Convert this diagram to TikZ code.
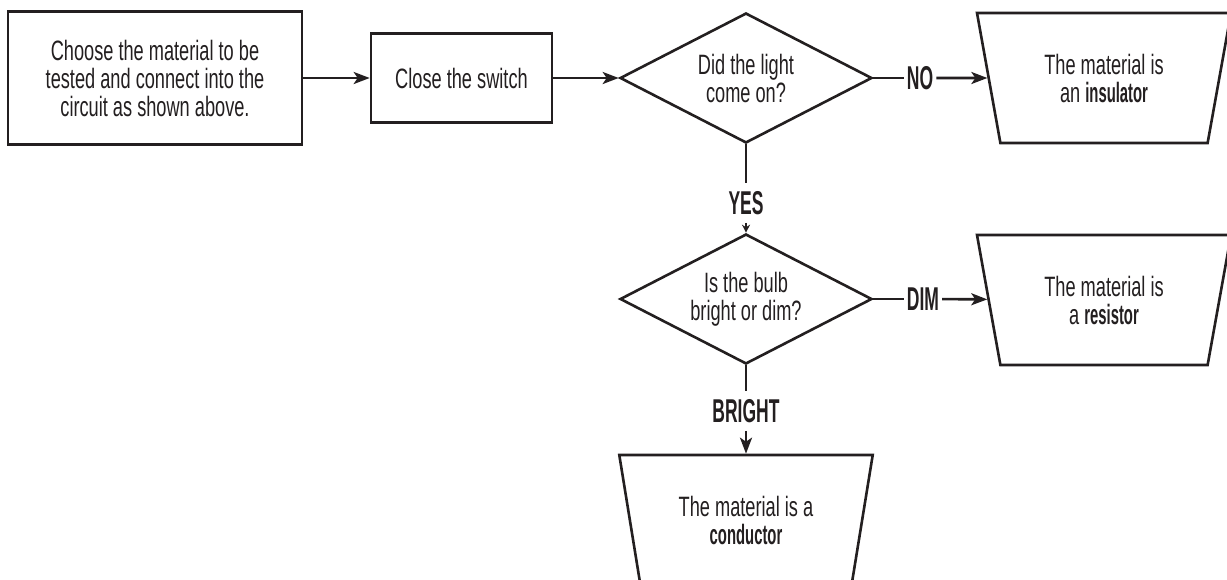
\documentclass[tikz,border=0pt]{standalone}
\usepackage{fontspec}
\setmainfont{Liberation Sans}[FakeStretch=0.65]
\newfontfamily\tagfont{Liberation Sans}[FakeStretch=0.53]
\usetikzlibrary{shapes.geometric,arrows.meta}
\definecolor{ink}{HTML}{231F20}
\newcommand{\keyword}[1]{{\tagfont\bfseries #1}}

\tikzset{
  flow/.style={draw=ink, line width=2.6pt, text=ink, font=\fontsize{28}{28}\selectfont, align=center, inner sep=0pt},
  stepbox/.style={flow, rectangle},
  decision/.style={flow, diamond, aspect=1.94, minimum width=252pt, minimum height=130pt},
  outcome/.style={flow, trapezium, shape border rotate=180, trapezium left angle=74.5, trapezium right angle=74.5, trapezium stretches=true, minimum width=254pt, minimum height=130pt},
  answer/.style={text=ink, font=\tagfont\bfseries\fontsize{33}{33}\selectfont, inner xsep=3pt, inner ysep=8pt},
  tie/.style={draw=ink, line width=2.6pt},
  link/.style={tie, -{Stealth[length=16pt,width=12pt,inset=4pt]}},
  shortlink/.style={tie, -{Stealth[length=8pt,width=8pt]}},
}

\begin{document}
\begin{tikzpicture}[x=1pt, y=-1pt]
  \useasboundingbox[fill=white] (0,0) rectangle (1227,579);

  % Steps
  \node[stepbox, minimum width=294pt, minimum height=133pt] (choose) at (155,78) {Choose the material to be\\tested and connect into the\\circuit as shown above.};
  \node[stepbox, minimum width=181pt, minimum height=89pt] (close) at (461.5,78) {Close the switch};

  % Questions
  \node[decision] (light) at (746,78) {Did the light\\come on?};
  \node[decision] (bulb) at (746,299) {Is the bulb\\bright or dim?};

  % Results
  \node[outcome] (insul) at (1104,78) {The material is\\an \keyword{insulator}};
  \node[outcome] (resist) at (1104,300) {The material is\\a \keyword{resistor}};
  \node[outcome] (cond) at (746,520) {The material is a\\\keyword{conductor}};

  % Answers
  \node[answer] (no) at (920,78) {NO};
  \node[answer] (yes) at (746,203) {YES};
  \node[answer] (dim) at (923,299) {DIM};
  \node[answer] (bright) at (746,411) {BRIGHT};

  % Arrows
  \draw[link] (choose) -- (close);
  \draw[link] (close) -- (light);
  \draw[tie] (light) -- (no);
  \draw[link] (no) -- (insul);
  \draw[tie] (light) -- (yes);
  \draw[shortlink] (yes) -- (bulb);
  \draw[tie] (bulb) -- (dim);
  \draw[link] (dim) -- (resist);
  \draw[tie] (bulb) -- (bright);
  \draw[link] (bright) -- (cond);
\end{tikzpicture}
\end{document}
